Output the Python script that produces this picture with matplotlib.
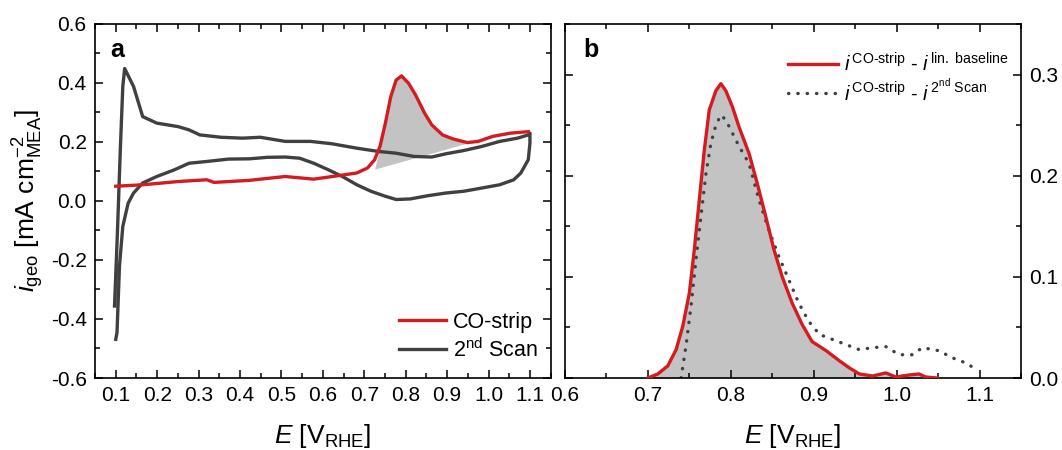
import numpy as np
import matplotlib
matplotlib.use("Agg")
import matplotlib.pyplot as plt
from matplotlib.ticker import MultipleLocator

plt.rcParams["font.family"] = ["Liberation Sans", "DejaVu Sans"]
plt.rcParams["mathtext.fontset"] = "custom"
plt.rcParams["mathtext.rm"] = "Liberation Sans"
plt.rcParams["mathtext.it"] = "Liberation Sans:italic"
plt.rcParams["mathtext.bf"] = "Liberation Sans:bold"

# panel a: CO stripping scan (anodic sweep only)
E_co = [0.100, 0.165, 0.251, 0.320, 0.337, 0.423, 0.509, 0.578, 0.638, 0.682,
        0.708, 0.725, 0.738, 0.751, 0.764, 0.777, 0.790, 0.807, 0.824, 0.846,
        0.863, 0.889, 0.915, 0.949, 0.975, 1.010, 1.053, 1.096]
i_co = [0.050, 0.055, 0.066, 0.072, 0.063, 0.070, 0.083, 0.074, 0.086, 0.095,
        0.112, 0.140, 0.185, 0.264, 0.354, 0.410, 0.424, 0.399, 0.359, 0.297,
        0.258, 0.224, 0.210, 0.198, 0.202, 0.219, 0.230, 0.235]

# panel a: 2nd scan (closed loop, anodic then cathodic)
E_2nd = [0.097, 0.104, 0.111, 0.117, 0.1215, 0.143, 0.165, 0.199, 0.251, 0.277,
         0.303, 0.354, 0.406, 0.449, 0.509, 0.570, 0.622, 0.682, 0.734, 0.777,
         0.820, 0.863, 0.897, 0.940, 0.984, 1.027, 1.070, 1.096, 1.100,
         1.100, 1.096, 1.078, 1.061, 1.027, 0.984, 0.940, 0.897, 0.854, 0.811,
         0.777, 0.751, 0.716, 0.682, 0.647, 0.613, 0.578, 0.544, 0.509, 0.466,
         0.423, 0.372, 0.320, 0.277, 0.242, 0.199, 0.165, 0.143, 0.130, 0.117,
         0.109, 0.103, 0.100]
i_2nd = [-0.356, -0.108, 0.174, 0.388, 0.449, 0.388, 0.286, 0.264, 0.252, 0.241,
         0.224, 0.216, 0.213, 0.216, 0.202, 0.202, 0.194, 0.179, 0.168, 0.162,
         0.151, 0.149, 0.160, 0.171, 0.185, 0.202, 0.213, 0.224, 0.230,
         0.196, 0.140, 0.095, 0.072, 0.055, 0.044, 0.033, 0.027, 0.018, 0.007,
         0.005, 0.016, 0.033, 0.055, 0.083, 0.106, 0.128, 0.145, 0.149, 0.148,
         0.143, 0.142, 0.134, 0.128, 0.106, 0.083, 0.061, 0.027, -0.007, -0.086,
         -0.220, -0.446, -0.469]

# linear baseline under the CO peak (end points)
E_base = [0.730, 0.950]
i_base = [0.110, 0.197]

# panel b: CO-strip minus linear baseline
E_b_lin = [0.700, 0.712, 0.724, 0.734, 0.742, 0.750, 0.756, 0.762, 0.768, 0.774,
           0.782, 0.788, 0.794, 0.802, 0.810, 0.822, 0.832, 0.842, 0.852, 0.862,
           0.874, 0.886, 0.898, 0.915, 0.931, 0.943, 0.955, 0.971, 0.987, 0.999,
           1.015, 1.027, 1.035, 1.049]
i_b_lin = [0.000, 0.004, 0.012, 0.028, 0.051, 0.084, 0.127, 0.176, 0.225, 0.265,
           0.284, 0.291, 0.284, 0.268, 0.248, 0.222, 0.192, 0.160, 0.127, 0.100,
           0.074, 0.053, 0.036, 0.027, 0.017, 0.010, 0.004, 0.002, 0.005, 0.001,
           0.003, 0.004, 0.001, 0.000]

# panel b: CO-strip minus 2nd scan
E_b_2nd = [0.740, 0.746, 0.752, 0.758, 0.764, 0.770, 0.776, 0.782, 0.788, 0.794,
           0.802, 0.810, 0.822, 0.834, 0.846, 0.858, 0.870, 0.882, 0.894, 0.907,
           0.923, 0.939, 0.955, 0.971, 0.987, 1.003, 1.019, 1.031, 1.051, 1.067,
           1.083, 1.099]
i_b_2nd = [0.000, 0.032, 0.071, 0.117, 0.160, 0.202, 0.232, 0.250, 0.260, 0.255,
           0.242, 0.229, 0.212, 0.176, 0.146, 0.120, 0.097, 0.074, 0.056, 0.043,
           0.038, 0.033, 0.028, 0.030, 0.031, 0.023, 0.023, 0.030, 0.027, 0.020,
           0.015, 0.007]

red = "#d41c20"
grey = "#404040"
fill_grey = "#c3c3c3"


def style_axes(ax):
    ax.tick_params(which="both", direction="in", top=True, right=True,
                   width=1.1, labelsize=15, pad=6)
    ax.tick_params(which="major", length=6)
    ax.tick_params(which="minor", length=3.5)
    for s in ax.spines.values():
        s.set_linewidth(1.2)
    ax.xaxis.set_major_formatter(plt.FuncFormatter(lambda v, p: f"{v:.1f}"))
    ax.yaxis.set_major_formatter(plt.FuncFormatter(lambda v, p: f"{v:.1f}"))


fig = plt.figure(figsize=(10.62, 4.5), dpi=100)
ax1 = fig.add_axes([0.0895, 0.16, 0.429, 0.7867])
ax2 = fig.add_axes([0.532, 0.16, 0.4294, 0.7867])

# ---- panel a ----
x = np.array(E_co)
y = np.array(i_co)
base = i_base[0] + (x - E_base[0]) * (i_base[1] - i_base[0]) / (E_base[1] - E_base[0])
ax1.fill_between(x, base, y, where=(x >= E_base[0]) & (x <= E_base[1]) & (y >= base),
                 interpolate=True, color=fill_grey, lw=0, zorder=1)
ax1.plot(E_co, i_co, color=red, lw=2.4, label="CO-strip", zorder=3)
ax1.plot(E_2nd, i_2nd, color=grey, lw=2.4, label="2$^{\\mathrm{nd}}$ Scan", zorder=2)

ax1.xaxis.set_major_locator(MultipleLocator(0.1))
ax1.xaxis.set_minor_locator(MultipleLocator(0.05))
ax1.yaxis.set_major_locator(MultipleLocator(0.2))
ax1.yaxis.set_minor_locator(MultipleLocator(0.1))
style_axes(ax1)
ax1.set_xticks([v / 10 for v in range(1, 12)])
ax1.set_xlim(0.05, 1.15)
ax1.set_ylim(-0.6, 0.6)
ax1.set_xlabel("$E$ [V$_{\\mathrm{RHE}}$]", fontsize=19)
ax1.xaxis.set_label_coords(0.5, -0.125)
ax1.set_ylabel("$i_{\\mathrm{geo}}$ [mA cm$^{-2}_{\\mathrm{MEA}}$]", fontsize=19)
ax1.yaxis.set_label_coords(-0.108, 0.5)
ax1.text(0.033, 0.927, "a", transform=ax1.transAxes, fontsize=18,
         fontweight="bold", va="center", ha="left")
ax1.legend(loc="lower right", bbox_to_anchor=(1.0, 0.01), frameon=False,
           fontsize=15.5, handlelength=2.2, handletextpad=0.3, labelspacing=0.25,
           borderaxespad=0.2)

# ---- panel b ----
ax2.fill_between(E_b_lin, 0, i_b_lin, color=fill_grey, lw=0, zorder=1)
ax2.plot(E_b_lin, i_b_lin, color=red, lw=2.4, zorder=3,
         label="$i^{\\,\\mathrm{CO\\text{-}strip}}$ - $i^{\\,\\mathrm{lin.\\ baseline}}$")
ax2.plot(E_b_2nd, i_b_2nd, color=grey, lw=2.4, ls=(0, (0.1, 2.7)),
         dash_capstyle="round", zorder=2,
         label="$i^{\\,\\mathrm{CO\\text{-}strip}}$ - $i^{\\,\\mathrm{2^{nd}\\ Scan}}$")
ax2.xaxis.set_major_locator(MultipleLocator(0.1))
ax2.xaxis.set_minor_locator(MultipleLocator(0.05))
ax2.yaxis.set_major_locator(MultipleLocator(0.1))
ax2.yaxis.set_minor_locator(MultipleLocator(0.05))
style_axes(ax2)
ax2.set_xlim(0.6, 1.15)
ax2.set_ylim(0, 0.35)
ax2.tick_params(labelleft=False, labelright=True)
ax2.set_xlabel("$E$ [V$_{\\mathrm{RHE}}$]", fontsize=19)
ax2.xaxis.set_label_coords(0.5, -0.125)
ax2.text(0.04, 0.927, "b", transform=ax2.transAxes, fontsize=18,
         fontweight="bold", va="center", ha="left")
ax2.legend(loc="upper right", bbox_to_anchor=(1.0, 0.955), frameon=False,
           fontsize=14.5, handlelength=2.5, handletextpad=0.3, labelspacing=0.15,
           borderaxespad=0.2)

fig.savefig("out.png", dpi=100)
